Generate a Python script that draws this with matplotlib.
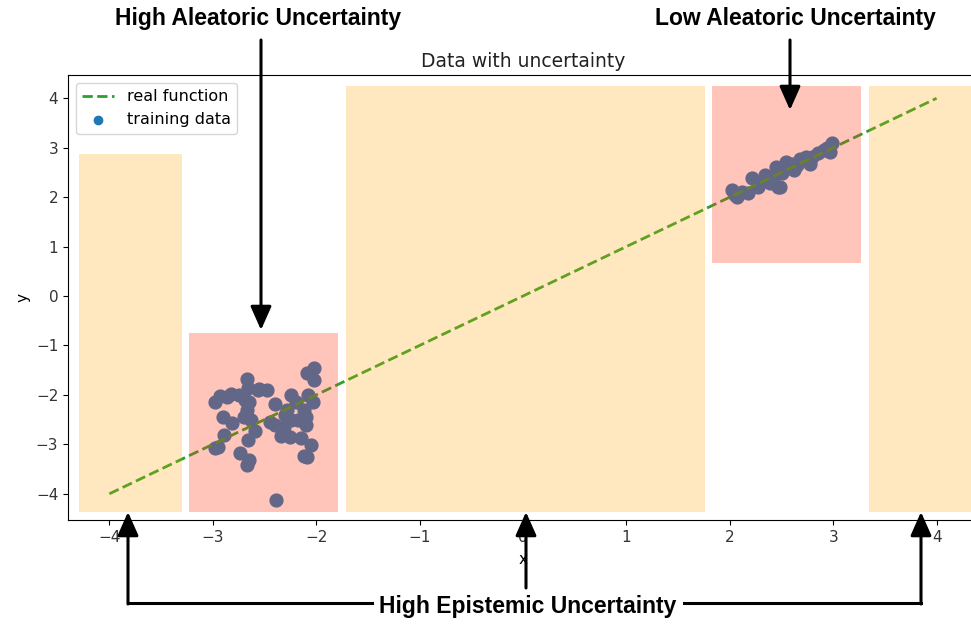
import numpy as np
import matplotlib
matplotlib.use("Agg")
import matplotlib.pyplot as plt
from matplotlib.patches import Rectangle, FancyArrowPatch
from matplotlib.lines import Line2D

# real function y = x
func_x = [-4, 4]
func_y = [-4, 4]

# noisy cluster (high aleatoric)
left_x = [-2.98, -2.93, -2.82, -2.67, -2.66, -2.56, -2.48, -2.69, -2.65, -2.67,
          -2.40, -2.24, -2.20, -2.09, -2.02, -2.02, -2.08, -2.03, -2.90, -2.81,
          -2.63, -2.59, -2.40, -2.28, -2.24, -2.18, -2.10, -2.31, -2.34, -2.89,
          -2.98, -2.66, -2.74, -2.65, -2.67, -2.15, -2.05, -2.12, -2.09, -2.39,
          -2.86, -2.55, -2.30, -2.12, -2.95, -2.25, -2.10, -2.70, -2.75, -2.45]
left_y = [-2.14, -2.02, -1.98, -1.68, -1.86, -1.90, -1.90, -2.10, -2.14, -2.30,
          -2.18, -2.00, -2.14, -1.56, -1.46, -1.70, -2.00, -2.14, -2.44, -2.57,
          -2.51, -2.74, -2.61, -2.30, -2.51, -2.51, -2.44, -2.64, -2.84, -2.81,
          -3.08, -2.92, -3.18, -3.31, -3.41, -2.87, -3.01, -3.23, -3.26, -4.13,
          -2.05, -1.88, -2.40, -2.30, -3.05, -2.85, -2.60, -2.45, -2.00, -2.55]

# tight cluster (low aleatoric)
right_x = [2.02, 2.07, 2.18, 2.21, 2.27, 2.34, 2.42, 2.45, 2.50, 2.39,
           2.54, 2.55, 2.49, 2.68, 2.78, 2.79, 2.91, 2.99, 2.97, 2.60,
           2.47, 2.65, 2.74, 2.12, 2.30, 2.85, 2.05, 2.36, 2.62, 2.94]
right_y = [2.14, 2.01, 2.08, 2.38, 2.21, 2.44, 2.41, 2.61, 2.48, 2.28,
           2.71, 2.58, 2.21, 2.78, 2.68, 2.81, 2.95, 3.09, 2.92, 2.68,
           2.21, 2.65, 2.82, 2.10, 2.30, 2.90, 2.05, 2.33, 2.55, 3.00]

# shaded regions: (x0, x1, y0, y1)
epistemic_boxes = [(-4.29, -3.30, -4.36, 2.87),
                   (-1.71, 1.76, -4.36, 4.24),
                   (3.35, 4.60, -4.36, 4.24)]
aleatoric_boxes = [(-3.23, -1.79, -4.36, -0.75),
                   (1.83, 3.27, 0.67, 4.24)]

W, H = 971, 625
fig = plt.figure(figsize=(W / 100, H / 100), dpi=100)
ax = fig.add_axes([68 / W, 1 - 520 / H, (978 - 68) / W, (520 - 75) / H])

ax.plot(func_x, func_y, '--', color='tab:green', lw=2, label='real function', zorder=3)
ax.scatter(left_x + right_x, left_y + right_y, s=85, color='tab:blue',
           label='training data', zorder=2)

for x0, x1, y0, y1 in epistemic_boxes:
    ax.add_patch(Rectangle((x0, y0), x1 - x0, y1 - y0, facecolor='orange',
                           alpha=0.25, edgecolor='none', zorder=4))
for x0, x1, y0, y1 in aleatoric_boxes:
    ax.add_patch(Rectangle((x0, y0), x1 - x0, y1 - y0, facecolor='#ff4020',
                           alpha=0.3, edgecolor='none', zorder=4))

ax.set_xlim(-4.4, 4.4)
ax.set_ylim(-4.53, 4.47)
ax.set_xticks([-4, -3, -2, -1, 0, 1, 2, 3, 4])
ax.set_yticks([-4, -3, -2, -1, 0, 1, 2, 3, 4])
ax.tick_params(labelcolor='#333333', labelsize=11)
ax.set_xlabel('x', labelpad=5, fontsize=11)
ax.set_ylabel('y', fontsize=11)
ax.set_title('Data with uncertainty', fontsize=13.5, color='#222222')
ax.legend(loc='upper left', markerscale=0.65, fontsize=11.5)


# annotations in top-left pixel coordinates
def fp(px, py):
    return (px / W, 1 - py / H)


ann_font = dict(family=['Liberation Sans Narrow', 'Liberation Sans', 'DejaVu Sans'],
                fontweight='bold', fontsize=16.5, ha='center', va='center')
fig.text(*fp(258, 19), 'High Aleatoric Uncertainty', **ann_font)
fig.text(*fp(795, 19), 'Low Aleatoric Uncertainty', **ann_font)
fig.text(*fp(528, 606), 'High Epistemic Uncertainty', **ann_font)


def arrow(p0, p1):
    fig.add_artist(FancyArrowPatch(fp(*p0), fp(*p1), transform=fig.transFigure,
                                   arrowstyle='-|>,head_length=0.9,head_width=0.4',
                                   mutation_scale=16, lw=2.2, color='black',
                                   shrinkA=0, shrinkB=0))


def line(pts):
    xs, ys = zip(*[fp(*p) for p in pts])
    fig.add_artist(Line2D(xs, ys, transform=fig.transFigure, lw=2.2, color='black'))


arrow((261, 40), (261, 330))
arrow((790, 40), (790, 110))
line([(128, 603), (372, 603)])
line([(684, 603), (921, 603)])
arrow((128, 604), (128, 512))
arrow((921, 604), (921, 512))
arrow((526, 588), (526, 512))

fig.savefig('out.png', dpi=100)
